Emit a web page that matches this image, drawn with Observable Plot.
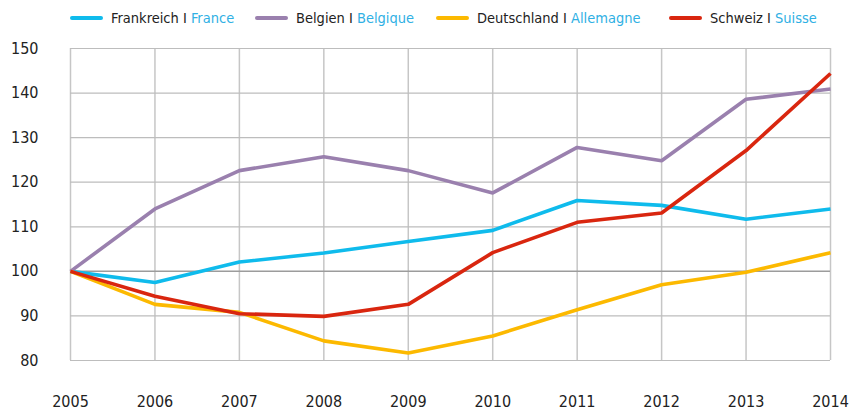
<!DOCTYPE html>
<html>
<head>
<meta charset="utf-8">
<script src="https://cdn.jsdelivr.net/npm/d3@7"></script>
<script src="https://cdn.jsdelivr.net/npm/@observablehq/plot@0.6"></script>
<style>
  html, body { margin: 0; padding: 0; background: #fff; }
  body { width: 850px; height: 412px; overflow: hidden; font-family: "DejaVu Sans Condensed", "Liberation Sans Narrow", "Roboto", sans-serif; }
  #legend { position: relative; height: 36px; font-size: 14.5px; color: #222; }
  .item { position: absolute; top: 10px; display: flex; align-items: center; white-space: nowrap; }
  .sw { width: 33px; height: 4px; border-radius: 2px; margin-right: 8px; }
  .fr { color: #2fb0e4; }
</style>
</head>
<body>
<div id="legend"></div>
<div id="chart"></div>
<script>
const years = [2005, 2006, 2007, 2008, 2009, 2010, 2011, 2012, 2013, 2014];
const seriesNames = ["Frankreich", "Belgien", "Deutschland", "Schweiz"];
const seriesFr = ["France", "Belgique", "Allemagne", "Suisse"];
const colors = ["#0fbbec", "#9a80ae", "#fcb900", "#d9260f"];
const france  = [100, 97.5, 102.1, 104.1, 106.7, 109.2, 115.9, 114.8, 111.7, 114.0];
const belgium = [100, 114.0, 122.6, 125.7, 122.6, 117.6, 127.8, 124.8, 138.6, 140.9];
const germany = [100, 92.6, 90.8, 84.4, 81.7, 85.5, 91.4, 97.0, 99.8, 104.2];
const switzerland = [100, 94.4, 90.5, 89.9, 92.6, 104.2, 111.0, 113.1, 127.1, 144.4];
const yTicks = [80, 90, 100, 110, 120, 130, 140, 150];
const legendX = [70, 255, 436, 669];

const allSeries = [france, belgium, germany, switzerland];
const data = [];
allSeries.forEach((vals, i) => vals.forEach((v, j) => data.push({year: years[j], value: v, series: seriesNames[i]})));

// Legend
const legend = document.getElementById("legend");
seriesNames.forEach((n, i) => {
  const it = document.createElement("div");
  it.className = "item";
  it.style.left = legendX[i] + "px";
  it.innerHTML = `<span class="sw" style="background:${colors[i]}"></span><span>${n} I <span class="fr">${seriesFr[i]}</span></span>`;
  legend.appendChild(it);
});

const chart = Plot.plot({
  width: 850,
  height: 376,
  marginTop: 12,
  marginBottom: 52,
  marginLeft: 70,
  marginRight: 20,
  style: { fontFamily: "DejaVu Sans Condensed, Liberation Sans Narrow, Roboto, sans-serif", fontSize: "16px", color: "#222", background: "#fff" },
  x: { domain: [2005, 2014], label: null },
  y: { domain: [80, 150], label: null },
  color: { domain: seriesNames, range: colors },
  marks: [
    Plot.ruleX(years, { stroke: "#c6c6c6", strokeWidth: 1.5 }),
    Plot.ruleY(yTicks.filter(t => t !== 100), { stroke: "#bdbdbd", strokeWidth: 1.2 }),
    Plot.ruleY([100], { stroke: "#9c9c9c", strokeWidth: 1.5 }),
    Plot.axisX({ ticks: years, tickFormat: d => String(d), tickSize: 0, tickPadding: 35, fontSize: 16, label: null }),
    Plot.axisY({ ticks: yTicks, tickSize: 0, tickPadding: 32, fontSize: 16, label: null }),
    Plot.line(data, { x: "year", y: "value", z: "series", stroke: "series", strokeWidth: 3.6, strokeLinejoin: "miter", strokeLinecap: "butt" })
  ]
});
document.getElementById("chart").appendChild(chart);
</script>
</body>
</html>
